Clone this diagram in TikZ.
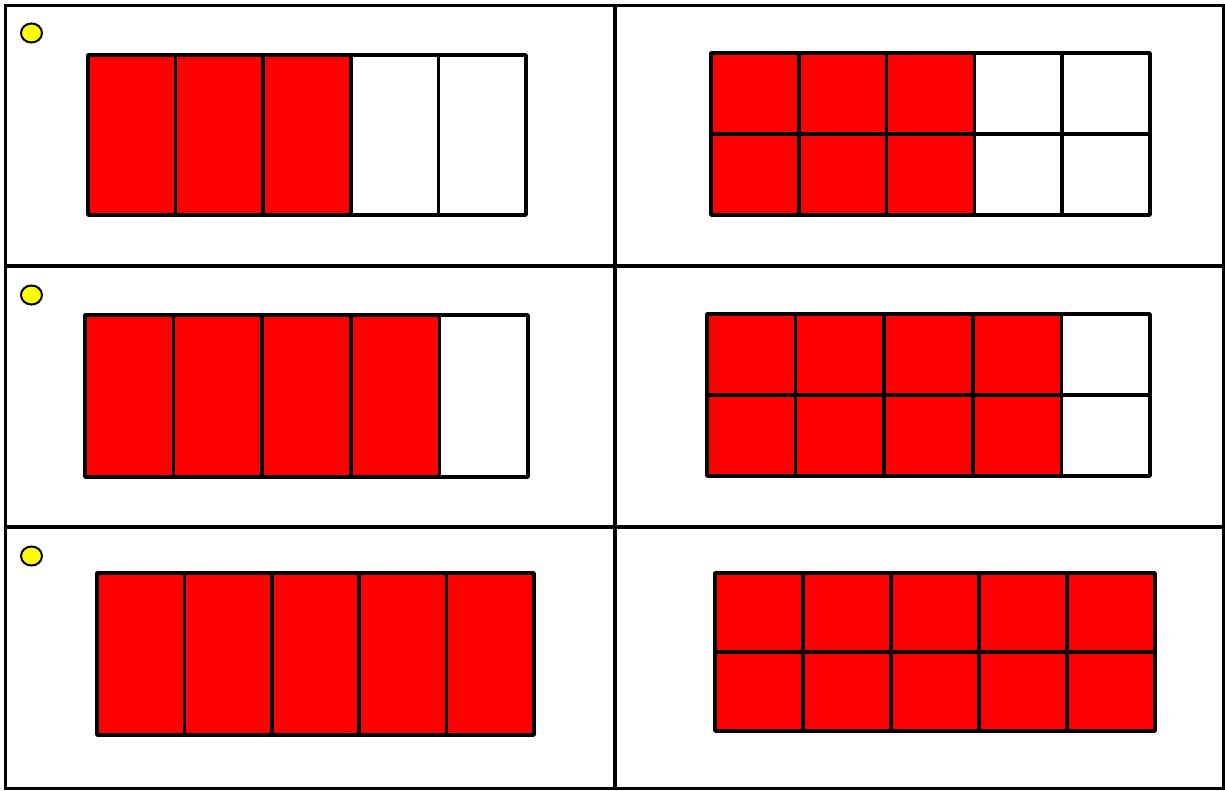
\documentclass[tikz,border=0pt]{standalone}
\usepackage{xcolor}
\definecolor{barred}{HTML}{FF0000}
\definecolor{dotyellow}{HTML}{FFFF00}

\tikzset{
  cellline/.style={line width=3.6pt},
  barline/.style={line width=3.6pt, line join=round},
  dot/.style={draw, line width=2pt, fill=dotyellow}
}

% fraction bar: x0, y0, x1, y1, rows, shaded columns (out of 5)
\newcommand{\fracbar}[6]{%
  \pgfmathsetmacro{\cw}{(#3-#1)/5}
  \fill[barred] (#1,#2) rectangle ({#1+#6*\cw},#4);
  \foreach \i in {1,...,4}
    \draw[barline] ({#1+\i*\cw},#2) -- ({#1+\i*\cw},#4);
  \ifnum#5=2
    \draw[barline] (#1,{(#2+#4)/2}) -- (#3,{(#2+#4)/2});
  \fi
  \draw[barline] (#1,#2) rectangle (#3,#4);
}

\begin{document}
\begin{tikzpicture}[x=1pt, y=-1pt]
  \useasboundingbox (0,0) rectangle (1225,790);

  % table
  \draw[cellline] (5.5,5.5) rectangle (1223.5,788.5);
  \draw[cellline] (615,5.5) -- (615,788.5);
  \draw[cellline] (5.5,266) -- (1223.5,266);
  \draw[cellline] (5.5,527) -- (1223.5,527);

  % answer dots
  \foreach \y in {33, 295, 556}
    \draw[dot] (31.5,\y) ellipse (10.5 and 9.5);

  % row 1: 3/5 and 6/10
  \fracbar{88}{55}{526}{215}{1}{3}
  \fracbar{711}{53}{1150}{215}{2}{3}

  % row 2: 4/5 and 8/10
  \fracbar{85}{315}{528}{477}{1}{4}
  \fracbar{707}{314}{1150}{476}{2}{4}

  % row 3: 5/5 and 10/10
  \fracbar{97}{573}{534}{735}{1}{5}
  \fracbar{715}{573}{1155}{731}{2}{5}
\end{tikzpicture}
\end{document}
